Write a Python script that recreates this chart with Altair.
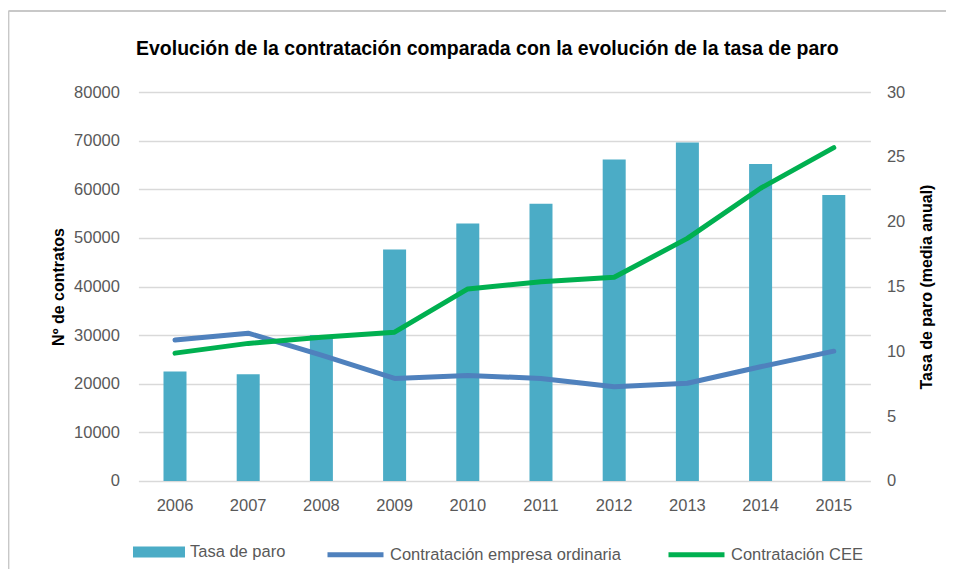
import altair as alt
import pandas as pd

years = ["2006", "2007", "2008", "2009", "2010", "2011", "2012", "2013", "2014", "2015"]
tasa_paro = [8.45, 8.23, 11.25, 17.86, 19.86, 21.39, 24.79, 26.10, 24.44, 22.06]
ordinaria = [29000, 30400, 25900, 21100, 21700, 21100, 19400, 20100, 23500, 26700]
cee = [26300, 28300, 29550, 30600, 39500, 41000, 41900, 49900, 60200, 68550]

series_bar = "Tasa de paro"
series_lines = ["Contratación empresa ordinaria", "Contratación CEE"]
left_ticks = [0, 10000, 20000, 30000, 40000, 50000, 60000, 70000, 80000]
right_ticks = [0, 5, 10, 15, 20, 25, 30]

bar_df = pd.DataFrame({"year": years, "value": tasa_paro, "serie": series_bar})
line_df = pd.concat([
    pd.DataFrame({"year": years, "value": ordinaria, "serie": series_lines[0]}),
    pd.DataFrame({"year": years, "value": cee, "serie": series_lines[1]}),
])

FONT = "Liberation Sans"
LABEL = "#595959"

x_enc = alt.X(
    "year:N", sort=years,
    scale=alt.Scale(paddingInner=0, paddingOuter=0),
    axis=alt.Axis(title=None, labelAngle=0, domain=False, ticks=False, labelPadding=17,
                  labelFontSize=16.5, labelColor=LABEL, labelFont=FONT),
)

bars = alt.Chart(bar_df).mark_bar(size=23).encode(
    x=x_enc,
    y=alt.Y("value:Q", scale=alt.Scale(domain=[0, 30]),
            axis=alt.Axis(orient="right", values=right_ticks, grid=False, domain=False, ticks=False,
                          title="Tasa de paro (media anual)", titleFont=FONT, titleFontSize=16,
                          titleFontWeight="bold", titleColor="#000000", titleAngle=270, titlePadding=30,
                          labelFont=FONT, labelFontSize=16.5, labelColor=LABEL, labelPadding=16)),
    fill=alt.Fill("serie:N", scale=alt.Scale(domain=[series_bar], range=["#4bacc6"]),
                  legend=alt.Legend(title=None, orient="none", legendX=-5.4, legendY=434,
                                    symbolType="M-1,-0.21H1V0.21H-1Z", symbolSize=2704,
                                    symbolStrokeWidth=0, symbolOpacity=1,
                                    labelFont=FONT, labelFontSize=16.5, labelColor=LABEL,
                                    labelOffset=5, labelLimit=0, padding=0)),
)

lines = alt.Chart(line_df).mark_line(strokeWidth=5, strokeCap="round", strokeJoin="round").encode(
    x=x_enc,
    y=alt.Y("value:Q", scale=alt.Scale(domain=[0, 80000]),
            axis=alt.Axis(orient="left", values=left_ticks, format="d", grid=True,
                          gridColor="#d9d9d9", gridWidth=1.5, domain=False, ticks=False,
                          title="Nº de contratos", titleFont=FONT, titleFontSize=16,
                          titleFontWeight="bold", titleColor="#000000", titlePadding=7,
                          labelFont=FONT, labelFontSize=16.5, labelColor=LABEL, labelPadding=19)),
    stroke=alt.Stroke("serie:N", sort=series_lines,
                      scale=alt.Scale(domain=series_lines, range=["#4f81bd", "#00b050"]),
                      legend=alt.Legend(title=None, orient="none", direction="horizontal", columns=2,
                                        legendX=186.6, legendY=432, symbolType="M-1,0H1",
                                        symbolSize=3136, symbolStrokeWidth=5, columnPadding=36,
                                        labelFont=FONT, labelFontSize=16.5, labelColor=LABEL,
                                        labelOffset=4, labelLimit=0, padding=0)),
)

frame_df = pd.DataFrame({"k": [0]})
border_top = alt.Chart(frame_df).mark_rule(color="#c8c8c8", strokeWidth=2).encode(
    x=alt.value(-130), x2=alt.value(820), y=alt.value(-81))
border_left = alt.Chart(frame_df).mark_rule(color="#c8c8c8", strokeWidth=2).encode(
    x=alt.value(-130), y=alt.value(-81), y2=alt.value(500))

chart = alt.layer(bars, lines, border_top, border_left).resolve_scale(
    y="independent", fill="independent", stroke="independent"
).properties(
    width=732, height=389,
    padding={"left": 130.4, "top": 84, "right": 76, "bottom": 88},
    autosize=alt.AutoSizeParams(type="none"),
    title=alt.TitleParams(
        "Evolución de la contratación comparada con la evolución de la tasa de paro",
        font=FONT, fontSize=19.5, fontWeight="bold", color="#000000",
        anchor="middle", dx=-17, offset=-49),
).configure_view(stroke=None)

chart.save("out.html", embed_options={"renderer": "svg", "actions": False})
